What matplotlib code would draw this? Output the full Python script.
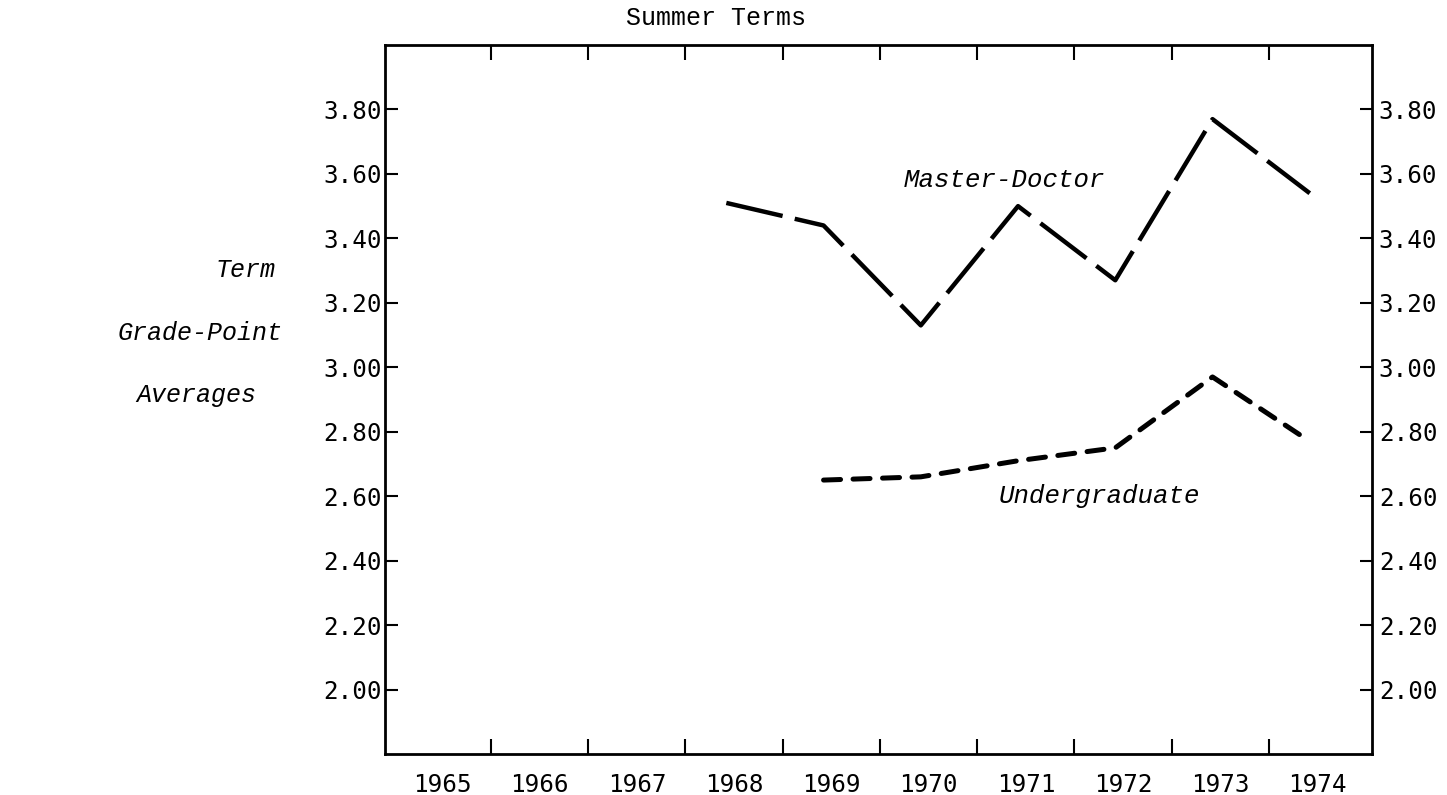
import matplotlib
matplotlib.use("Agg")
import matplotlib.pyplot as plt
import matplotlib.transforms as mtransforms
import numpy as np

# ---- data ----
year_labels = [1965, 1966, 1967, 1968, 1969, 1970, 1971, 1972, 1973, 1974]
master_years = [1968, 1969, 1970, 1971, 1972, 1973, 1974]
master_gpa = [3.51, 3.44, 3.13, 3.50, 3.27, 3.77, 3.54]
under_years = [1969, 1970, 1971, 1972, 1973, 1974]
under_gpa = [2.65, 2.66, 2.71, 2.75, 2.97, 2.77]
y_ticks = [2.00, 2.20, 2.40, 2.60, 2.80, 3.00, 3.20, 3.40, 3.60, 3.80]

W, H = 1447, 795
fig = plt.figure(figsize=(W / 100, H / 100), dpi=100)
fig.patch.set_facecolor("white")

left, right, top, bottom = 385, 1372, 45, 754
ax = fig.add_axes([left / W, 1 - bottom / H, (right - left) / W, (bottom - top) / H])

shift = -0.08
mono = "DejaVu Sans Mono"
typew = "Liberation Mono"

ax.plot(np.array(master_years) + shift, master_gpa, color="black", lw=3.2,
        dashes=(13, 2.8), dash_capstyle="butt")
ax.plot(np.array(under_years) + shift, under_gpa, color="black", lw=3.6,
        dashes=(3.4, 2.5), dash_capstyle="round")

ax.set_xlim(1964.41, 1974.56)
ax.set_ylim(1.80, 4.00)

# major x ticks at boundaries between years (no labels)
ax.set_xticks([y + 0.5 for y in year_labels[:-1]])
ax.set_xticklabels([])
ax.tick_params(axis="x", which="major", direction="in", length=11, width=1.5,
               top=True, bottom=True)
# minor ticks (invisible) for labels at year centres
ax.set_xticks(year_labels, minor=True)
ax.set_xticklabels([str(y) for y in year_labels], minor=True,
                   fontsize=17.5, family=mono)
ax.tick_params(axis="x", which="minor", length=0, pad=14)

ax.set_yticks(y_ticks)
ax.set_yticklabels([f"{v:.2f}" for v in y_ticks], fontsize=17.5, family=mono)
ax.tick_params(axis="y", direction="in", length=9, width=1.5,
               left=True, right=True, labelleft=True, labelright=True, pad=2)
# nudge right-hand labels slightly away from the spine
off = mtransforms.ScaledTranslation(4 / 100, 0, fig.dpi_scale_trans)
for t in ax.yaxis.get_major_ticks():
    t.label2.set_transform(t.label2.get_transform() + off)

for s in ax.spines.values():
    s.set_linewidth(2.0)

def fx(px):
    return px / W

def fy(py):
    return 1 - py / H

fig.text(fx(716), fy(18), "Summer Terms", fontsize=18, family=typew,
         ha="center", va="center")
fig.text(fx(246), fy(270), "Term", fontsize=18, family=typew, style="italic",
         ha="center", va="center")
fig.text(fx(200), fy(333), "Grade-Point", fontsize=18, family=typew, style="italic",
         ha="center", va="center")
fig.text(fx(196), fy(395), "Averages", fontsize=18, family=typew, style="italic",
         ha="center", va="center")

ax.text(1969.74, 3.58, "Master-Doctor", fontsize=18.5, family=typew, style="italic",
        ha="left", va="center")
ax.text(1970.72, 2.60, "Undergraduate", fontsize=18.5, family=typew, style="italic",
        ha="left", va="center")

fig.savefig("out.png", dpi=100, facecolor="white")
